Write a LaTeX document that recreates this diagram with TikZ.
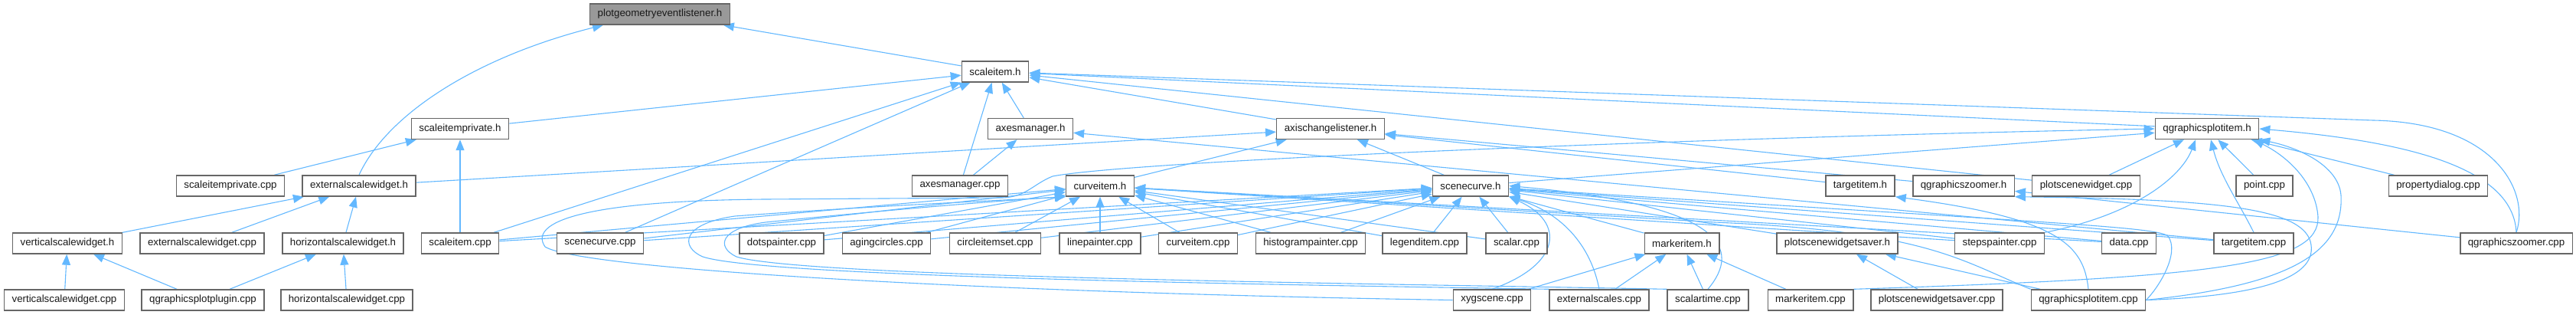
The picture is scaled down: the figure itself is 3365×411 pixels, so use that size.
\documentclass[tikz,border=0pt]{standalone}
\usepackage{fontspec}
\setmainfont{Liberation Sans}
\usetikzlibrary{arrows.meta}
\definecolor{edgeblue}{HTML}{63B8FF}
\definecolor{boxline}{HTML}{666666}
\definecolor{rootfill}{HTML}{999999}
\definecolor{labeltext}{HTML}{1A1A1A}
\pgfdeclarelayer{edges}
\pgfsetlayers{edges,main}
\tikzset{
  file/.style={draw=boxline,fill=white,line width=1.4pt,minimum height=27pt,
    inner xsep=10pt,inner ysep=0pt,text=labeltext,font=\fontsize{13.3}{16}\selectfont},
  rootfile/.style={file,fill=rootfill},
  dep/.style={draw=edgeblue,line width=1.1pt,->}
}
\begin{document}
\begin{tikzpicture}[x=1pt,y=-1pt,>={Triangle[length=14pt,width=11pt]}]
		\useasboundingbox (0,0) rectangle (3365,411);
		
		% row 1 and 2
		\node[rootfile] (pgel) at (862,18.5) {plotgeometryeventlistener.h};
		\node[file] (sih) at (1300,93.5) {scaleitem.h};
		
		% row 3
		\node[file] (siph) at (601,168) {scaleitemprivate.h};
		\node[file] (amh) at (1346,168) {axesmanager.h};
		\node[file] (aclh) at (1738,168) {axischangelistener.h};
		\node[file] (qpih) at (2883,168) {qgraphicsplotitem.h};
		
		% row 4
		\node[file] (sipcpp) at (301,242.5) {scaleitemprivate.cpp};
		\node[file] (eswh) at (469,242.5) {externalscalewidget.h};
		\node[file] (amcpp) at (1254,242.5) {axesmanager.cpp};
		\node[file] (cih) at (1437,242.5) {curveitem.h};
		\node[file] (sch) at (1921,242.5) {scenecurve.h};
		\node[file] (tih) at (2430,242.5) {targetitem.h};
		\node[file] (qzh) at (2565,242.5) {qgraphicszoomer.h};
		\node[file] (pswcpp) at (2725,242.5) {plotscenewidget.cpp};
		\node[file] (pointcpp) at (2958,242.5) {point.cpp};
		\node[file] (pdcpp) at (3185,242.5) {propertydialog.cpp};
		
		% row 5
		\node[file] (vswh) at (88,317.5) {verticalscalewidget.h};
		\node[file] (eswcpp) at (264,317.5) {externalscalewidget.cpp};
		\node[file] (hswh) at (448,317.5) {horizontalscalewidget.h};
		\node[file] (sicpp) at (601,317.5) {scaleitem.cpp};
		\node[file] (sccpp) at (784,317.5) {scenecurve.cpp};
		\node[file] (dpcpp) at (1021,317.5) {dotspainter.cpp};
		\node[file] (accpp) at (1158,317.5) {agingcircles.cpp};
		\node[file] (ciscpp) at (1300,317.5) {circleitemset.cpp};
		\node[file] (lpcpp) at (1437,317.5) {linepainter.cpp};
		\node[file] (cicpp) at (1565,317.5) {curveitem.cpp};
		\node[file] (hpcpp) at (1712,317.5) {histogrampainter.cpp};
		\node[file] (licpp) at (1861,317.5) {legenditem.cpp};
		\node[file] (scalarcpp) at (1981,317.5) {scalar.cpp};
		\node[file] (mih) at (2197,317.5) {markeritem.h};
		\node[file] (pswsh) at (2400,317.5) {plotscenewidgetsaver.h};
		\node[file] (spcpp) at (2612,317.5) {stepspainter.cpp};
		\node[file] (datacpp) at (2781,317.5) {data.cpp};
		\node[file] (ticpp) at (2944,317.5) {targetitem.cpp};
		\node[file] (qzcpp) at (3287,317.5) {qgraphicszoomer.cpp};
		
		% row 6
		\node[file] (vswcpp) at (84,391.5) {verticalscalewidget.cpp};
		\node[file] (qppcpp) at (265,391.5) {qgraphicsplotplugin.cpp};
		\node[file] (hswcpp) at (453,391.5) {horizontalscalewidget.cpp};
		\node[file] (xygcpp) at (1949,391.5) {xygscene.cpp};
		\node[file] (escpp) at (2089,391.5) {externalscales.cpp};
		\node[file] (stcpp) at (2231,391.5) {scalartime.cpp};
		\node[file] (micpp) at (2365,391.5) {markeritem.cpp};
		\node[file] (pswscpp) at (2530,391.5) {plotscenewidgetsaver.cpp};
		\node[file] (qpicpp) at (2728,391.5) {qgraphicsplotitem.cpp};
		
		\begin{pgfonlayer}{edges}
		% into plotgeometryeventlistener.h
		\draw[dep] (sih) -- (pgel);
		\draw[dep] (eswh.north) .. controls (505,150) and (620,75) .. ([xshift=18pt]pgel.south west);
		
		% into scaleitem.h
		\foreach \f in {siph,sicpp,sccpp,amh,amcpp,aclh,qpih,pswcpp}
			\draw[dep] (\f) -- (sih);
		\draw[dep] (qzcpp.north) .. controls (3305,250) and (3260,160) .. (3100,157) -- (sih);
		
		% scale widgets
		\draw[dep] (sipcpp) -- (siph);
		\draw[dep] (sicpp) -- (siph);
		\foreach \f in {vswh,eswcpp,hswh}
			\draw[dep] (\f) -- (eswh);
		\draw[dep] (vswcpp) -- (vswh);
		\draw[dep] (qppcpp) -- (vswh);
		\draw[dep] (qppcpp) -- (hswh);
		\draw[dep] (hswcpp) -- (hswh);
		
		% axes
		\draw[dep] (amcpp) -- (amh);
		\draw[dep] (ticpp) -- (amh);
		\foreach \f in {eswh,cih,sch,tih,qzh}
			\draw[dep] (\f) -- (aclh);
		
		% into curveitem.h
		\foreach \f in {sicpp,sccpp,dpcpp,accpp,ciscpp,lpcpp,cicpp,hpcpp,licpp,scalarcpp,spcpp,datacpp}
			\draw[dep] (\f) -- (cih);
		\draw[dep] (escpp.north west) .. controls (1700,372) and (1000,362) .. (918,335)
			.. controls (888,322) and (890,292) .. (960,282) .. controls (1150,268) and (1300,262) .. (cih.south west);
		\draw[dep] (stcpp.north west) .. controls (1800,370) and (1050,362) .. (962,335)
			.. controls (935,322) and (940,298) .. (1000,290) .. controls (1150,275) and (1300,262) .. (cih.south west);
		\draw[dep] (qpicpp.north west) .. controls (2560,340) and (2520,302) .. (2240,290) -- (cih);
		
		% into scenecurve.h
		\foreach \f in {sicpp,sccpp,dpcpp,accpp,ciscpp,lpcpp,cicpp,hpcpp,licpp,scalarcpp,mih,pswsh,spcpp,datacpp,ticpp}
			\draw[dep] (\f) -- (sch);
		\draw[dep] (xygcpp.north) .. controls (2040,345) and (2045,290) .. (sch.south east);
		\draw[dep] (escpp.north) .. controls (2078,320) and (2040,278) .. (sch.south east);
		\draw[dep] (stcpp.north) .. controls (2275,325) and (2255,268) .. (sch.east);
		\draw[dep] (qpicpp.east) .. controls (2820,375) and (2848,330) .. (2832,308)
			.. controls (2815,296) and (2700,292) .. (sch);
		
		% markeritem.h and plotscenewidgetsaver.h
		\foreach \f in {xygcpp,escpp,stcpp,micpp}
			\draw[dep] (\f) -- (mih);
		\draw[dep] (pswscpp) -- (pswsh);
		\draw[dep] (qpicpp) -- (pswsh);
		
		% targetitem.h and qgraphicszoomer.h
		\draw[dep] (qpicpp.north) .. controls (2722,320) and (2690,285) .. (tih.south east);
		\draw[dep] (qzcpp) -- (qzh);
		\draw[dep] (qpicpp.east) .. controls (2960,386) and (3030,360) .. (3018,315)
			.. controls (3005,272) and (2900,260) .. (qzh.south east);
		
		% into qgraphicsplotitem.h
		\foreach \f in {sch,pswcpp,pointcpp,pdcpp}
			\draw[dep] (\f) -- (qpih);
		\draw[dep] (spcpp.north east) .. controls (2790,280) and (2850,230) .. ([xshift=-15pt]qpih.south);
		\draw[dep] (ticpp.north) .. controls (2925,265) and (2900,230) .. ([xshift=5pt]qpih.south);
		\draw[dep] (qzcpp.north) .. controls (3283,220) and (3150,185) .. (qpih.east);
		\draw[dep] (qpicpp.east) .. controls (2990,372) and (3062,330) .. (3058,255)
			.. controls (3055,215) and (3000,192) .. (qpih.south east);
		\draw[dep] (micpp.north east) .. controls (2900,362) and (3030,345) .. (3028,283)
			.. controls (3025,240) and (2990,205) .. ([xshift=-8pt]qpih.south east);
		\draw[dep] (xygcpp.west) .. controls (1300,382) and (760,352) .. (712,322)
			.. controls (690,290) and (760,262) .. (1000,260) -- (1310,258)
			.. controls (1340,257) and (1350,240) .. (1375,230)
			.. controls (1480,210) and (2200,180) .. (qpih.west);
		\end{pgfonlayer}
		
	\end{tikzpicture}
\end{document}
